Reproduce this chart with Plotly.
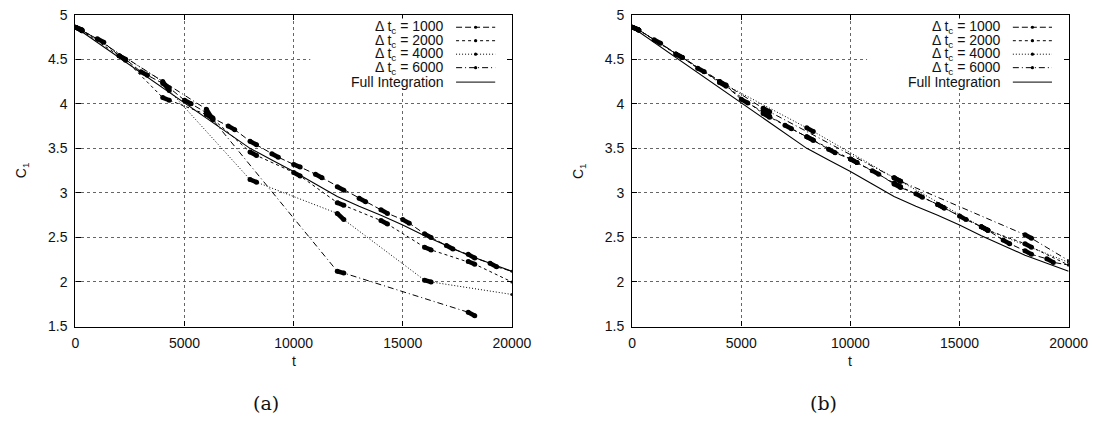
import plotly.graph_objects as go

W, H = 1117, 424

# ---------------- data ----------------
x_ticks = [0, 5000, 10000, 15000, 20000]
x_tick_labels = ["0", "5000", "10000", "15000", "20000"]
y_ticks = [1.5, 2, 2.5, 3, 3.5, 4, 4.5, 5]
y_tick_labels = ["1.5", "2", "2.5", "3", "3.5", "4", "4.5", "5"]

legend_labels = ["\u0394 t<sub>c</sub> = 1000", "\u0394 t<sub>c</sub> = 2000",
                 "\u0394 t<sub>c</sub> = 4000", "\u0394 t<sub>c</sub> = 6000",
                 "Full Integration"]

# full integration (same reference curve in both panels)
full_t = [0, 1000, 2000, 3000, 4000, 5000, 6000, 7000, 8000, 9000, 10000,
          11000, 12000, 13000, 14000, 15000, 16000, 17000, 18000, 19000, 20000]
full_v = [4.86, 4.69, 4.52, 4.35, 4.18, 4.01, 3.84, 3.66, 3.50, 3.37, 3.24,
          3.10, 2.96, 2.85, 2.75, 2.64, 2.52, 2.41, 2.30, 2.21, 2.12]

# panel (a): pairs (checkpoint, end of short fine burst), then final point
a1000_t = [0, 300, 1000, 1300, 2000, 2300, 3000, 3300, 4000, 4300, 5000, 5300,
           6000, 6300, 7000, 7300, 8000, 8300, 9000, 9300, 10000, 10300,
           11000, 11300, 12000, 12300, 13000, 13300, 14000, 14300, 15000, 15300,
           16000, 16300, 17000, 17300, 18000, 18300, 19000, 19300, 20000]
a1000_v = [4.86, 4.82, 4.73, 4.69, 4.54, 4.50, 4.36, 4.32, 4.23, 4.18, 4.04, 4.00,
           3.90, 3.84, 3.75, 3.71, 3.58, 3.54, 3.44, 3.40, 3.32, 3.29,
           3.21, 3.17, 3.07, 3.03, 2.94, 2.90, 2.81, 2.77, 2.70, 2.66,
           2.54, 2.50, 2.41, 2.37, 2.31, 2.27, 2.21, 2.17, 2.12]

a2000_t = [0, 300, 2000, 2300, 4000, 4300, 6000, 6300, 8000, 8300, 10000, 10300,
           12000, 12300, 14000, 14300, 16000, 16300, 18000, 18300, 20000]
a2000_v = [4.86, 4.82, 4.54, 4.49, 4.07, 4.04, 3.88, 3.83, 3.46, 3.42, 3.23, 3.19,
           2.89, 2.86, 2.69, 2.65, 2.39, 2.36, 2.23, 2.20, 2.00]

a4000_t = [0, 300, 4000, 4300, 8000, 8300, 12000, 12300, 16000, 16300, 20000]
a4000_v = [4.86, 4.83, 4.25, 4.15, 3.15, 3.12, 2.77, 2.70, 2.02, 2.00, 1.86]

a6000_t = [0, 300, 6000, 6300, 12000, 12300, 18000, 18300]
a6000_v = [4.86, 4.83, 3.94, 3.82, 2.12, 2.10, 1.66, 1.62]

# panel (b)
b1000_t = a1000_t
b1000_v = [4.86, 4.83, 4.72, 4.68, 4.56, 4.52, 4.40, 4.36, 4.25, 4.20, 4.05, 4.01,
           3.91, 3.86, 3.76, 3.72, 3.63, 3.59, 3.49, 3.45, 3.38, 3.34,
           3.25, 3.21, 3.10, 3.06, 2.99, 2.95, 2.87, 2.83, 2.74, 2.70,
           2.62, 2.58, 2.47, 2.43, 2.35, 2.31, 2.26, 2.22, 2.19]

b2000_t = a2000_t
b2000_v = [4.86, 4.83, 4.56, 4.52, 4.24, 4.20, 3.89, 3.85, 3.63, 3.59, 3.38, 3.34,
           3.11, 3.07, 2.87, 2.83, 2.62, 2.58, 2.43, 2.39, 2.19]

b4000_t = a4000_t
b4000_v = [4.86, 4.83, 4.25, 4.21, 3.73, 3.69, 3.17, 3.13, 2.62, 2.58, 2.22]

b6000_t = [0, 300, 6000, 6300, 12000, 12300, 18000, 18300, 20000]
b6000_v = [4.86, 4.83, 3.95, 3.91, 3.17, 3.13, 2.53, 2.49, 2.24]

# ---------------- styling ----------------
DASHES = ["6px,3px", "3px,3px", "1px,2px", "6px,3px,1px,3px", "solid"]
SANS = "Liberation Sans"
SERIF = "DejaVu Serif"

PANELS = [
    dict(left=73, right=519, xa="x", ya="y", cap="(a)",
         series=[(a1000_t, a1000_v), (a2000_t, a2000_v), (a4000_t, a4000_v), (a6000_t, a6000_v)]),
    dict(left=642, right=1088, xa="x2", ya="y2", cap="(b)",
         series=[(b1000_t, b1000_v), (b2000_t, b2000_v), (b4000_t, b4000_v), (b6000_t, b6000_v)]),
]
TOP, BOT = 7, 331


def px(x):
    return x / W


def py(y):
    return 1 - y / H


fig = go.Figure()

for p in PANELS:
    xa, ya = p["xa"], p["ya"]
    for (t, v), dash in zip(p["series"], DASHES):
        fig.add_trace(go.Scatter(x=t, y=v, mode="lines+markers", xaxis=xa, yaxis=ya,
                                 line=dict(color="black", width=1, dash=dash),
                                 marker=dict(size=3, color="black"),
                                 showlegend=False, hoverinfo="skip"))
        bx, by = [], []
        for i in range(0, len(t) - 1, 2):
            bx += [t[i], t[i + 1], None]
            by += [v[i], v[i + 1], None]
        fig.add_trace(go.Scatter(x=bx, y=by, mode="lines+markers", xaxis=xa, yaxis=ya,
                                 line=dict(color="black", width=4.5),
                                 marker=dict(size=5, color="black"),
                                 showlegend=False, hoverinfo="skip"))
    fig.add_trace(go.Scatter(x=full_t, y=full_v, mode="lines", xaxis=xa, yaxis=ya,
                             line=dict(color="black", width=1.1),
                             showlegend=False, hoverinfo="skip"))

axis_common = dict(showline=True, linecolor="black", linewidth=1.2, mirror="ticks",
                   ticks="inside", ticklen=5, tickcolor="black", tickwidth=1,
                   showgrid=True, gridcolor="#666", griddash="dot", gridwidth=1,
                   zeroline=False, ticklabelstandoff=4, ticklabeloverflow="allow",
                   tickfont=dict(family=SANS, size=14, color="#111"))

layout = dict(width=W, height=H, margin=dict(l=0, r=0, t=0, b=0),
              paper_bgcolor="white", plot_bgcolor="white", showlegend=False,
              font=dict(family=SANS, size=14, color="#111"))

shapes, annotations = [], []


def note(text, x, y, size=14, family=SANS, **kw):
    d = dict(text=text, x=px(x), y=py(y), xref="paper", yref="paper",
             xanchor=kw.pop("xanchor", "center"), yanchor="middle", showarrow=False,
             font=dict(family=family, size=size, color="#111"))
    d.update(kw)
    annotations.append(d)


for k, p in enumerate(PANELS):
    sfx = "" if k == 0 else "2"
    layout["xaxis" + sfx] = dict(axis_common, domain=[px(p["left"]), px(p["right"])],
                                 range=[0, 20000], tickvals=x_ticks, ticktext=x_tick_labels,
                                 anchor="y" + sfx)
    layout["yaxis" + sfx] = dict(axis_common, domain=[py(BOT), py(TOP)],
                                 range=[1.5, 5], tickvals=y_ticks, ticktext=y_tick_labels,
                                 anchor="x" + sfx)
    L = p["left"]
    cx = (p["left"] + p["right"]) / 2
    note("t", cx, 367)
    note("C<sub>1</sub>", L - 55, 169, textangle=-90)
    note(p["cap"], L + 195, 410, size=19, family=SERIF)
    # legend box
    shapes.append(dict(type="rect", xref="paper", yref="paper", layer="above",
                       x0=px(L + 240), x1=px(L + 441), y0=py(84), y1=py(11),
                       fillcolor="white", line=dict(width=0)))
    rows = [20, 34, 48, 62, 77]
    for lab, dash, ry in zip(legend_labels, DASHES, rows):
        note(lab, L + 379, ry, xanchor="right")
        shapes.append(dict(type="line", xref="paper", yref="paper", layer="above",
                           x0=px(L + 389), x1=px(L + 429), y0=py(ry), y1=py(ry),
                           line=dict(color="black", width=1, dash=dash)))
        if dash != "solid":
            shapes.append(dict(type="circle", xref="paper", yref="paper", layer="above",
                               xsizemode="pixel", ysizemode="pixel",
                               xanchor=px(L + 409), yanchor=py(ry),
                               x0=-1.6, x1=1.6, y0=-1.6, y1=1.6,
                               fillcolor="black", line=dict(width=0)))

layout["shapes"] = shapes
layout["annotations"] = annotations
fig.update_layout(**layout)

fig.write_html("out.html")
